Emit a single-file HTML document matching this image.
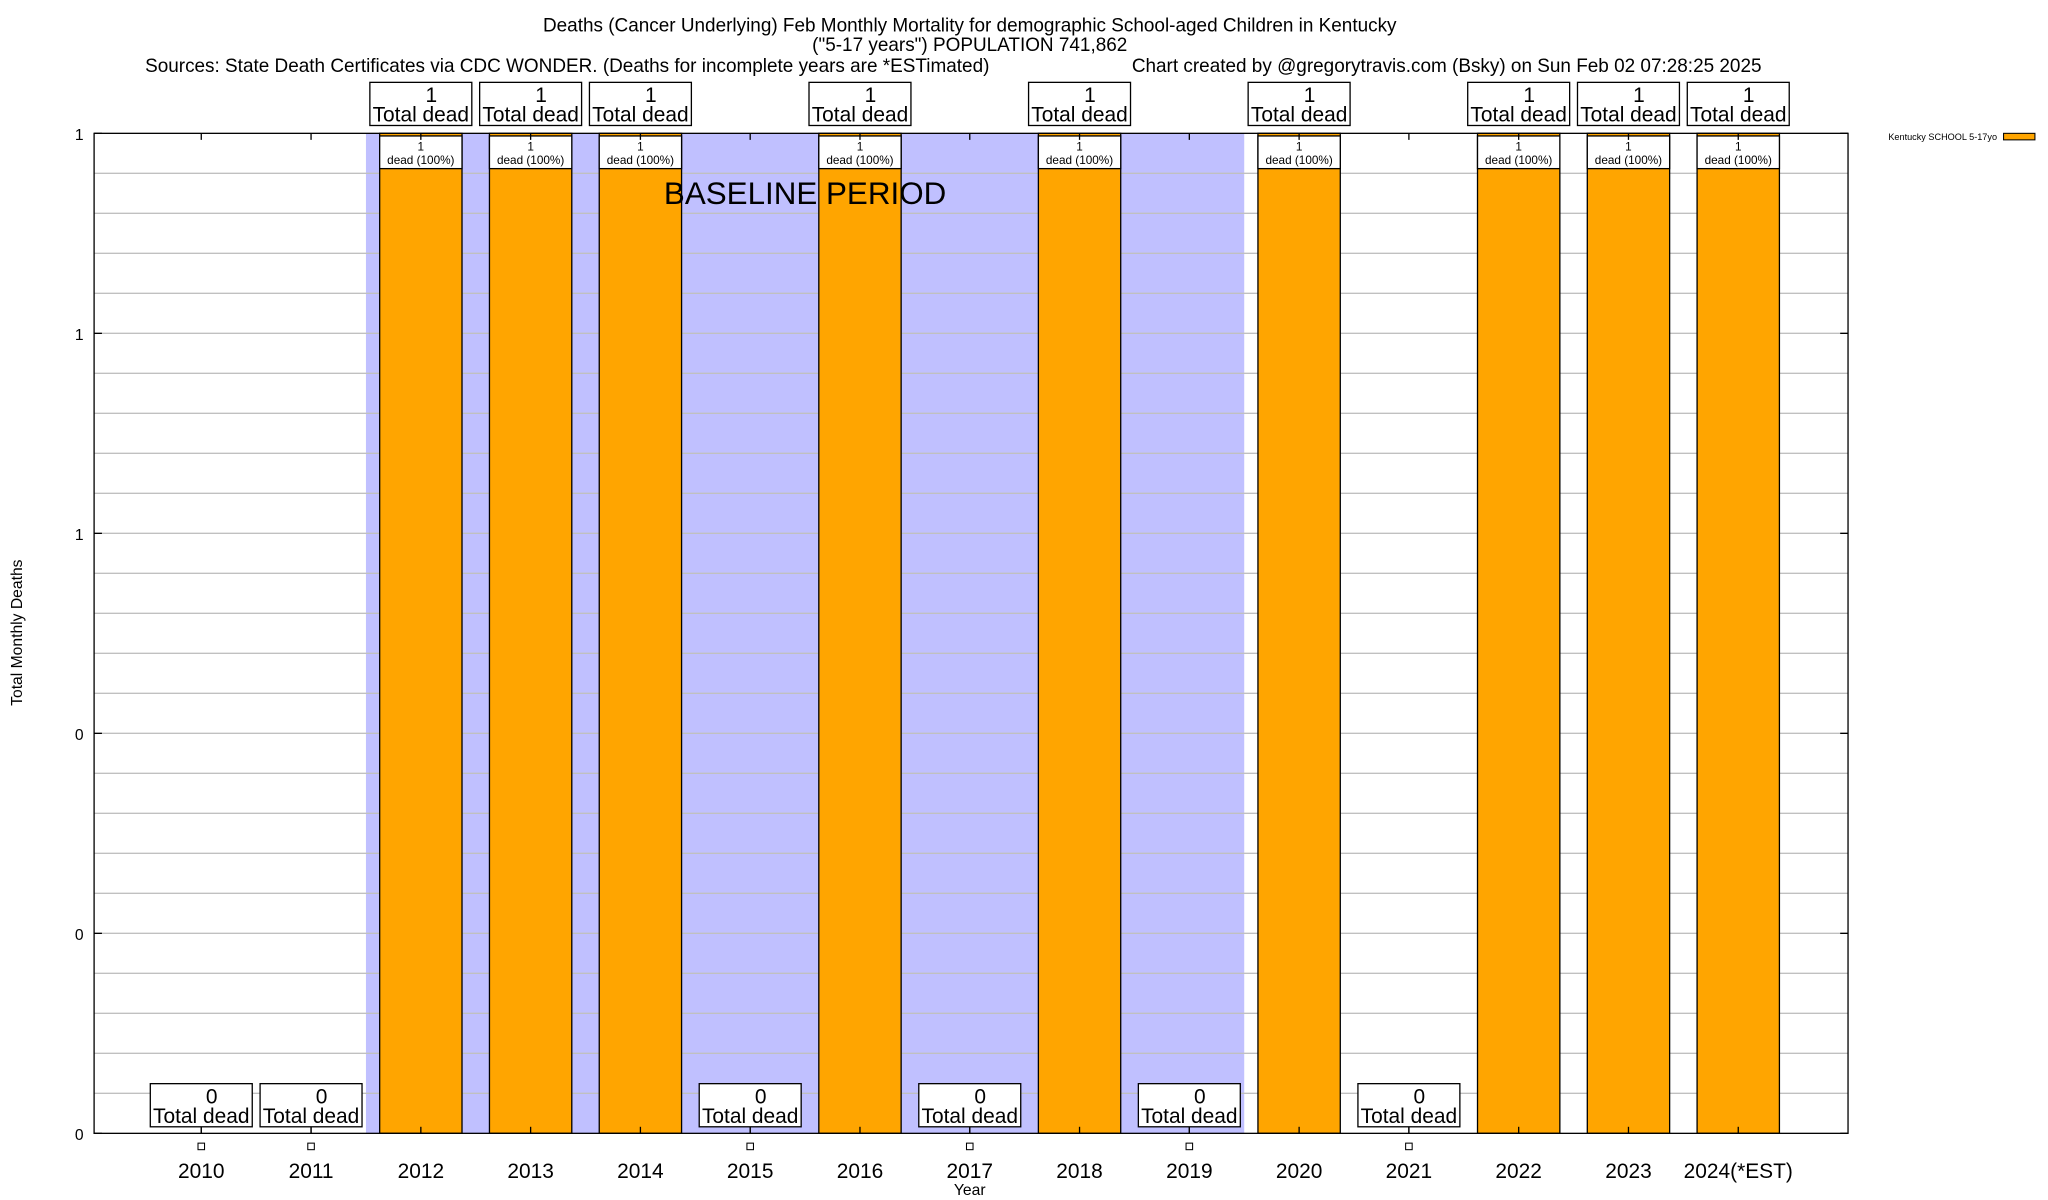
<!DOCTYPE html>
<html><head><meta charset="utf-8"><style>
html,body{margin:0;padding:0;background:#fff;}
svg{display:block;font-family:"Liberation Sans",Arial,sans-serif;}
</style></head><body>
<svg id="chart" width="2048" height="1200" viewBox="0 0 1567 918" preserveAspectRatio="none" xmlns="http://www.w3.org/2000/svg">
<rect width="1567" height="918" fill="#fff"/>
<g font-size="14.5" text-anchor="middle" fill="#000">
<text x="742" y="24">Deaths (Cancer Underlying) Feb Monthly Mortality for demographic School-aged Children in Kentucky</text>
<text x="742" y="39">("5-17 years") POPULATION 741,862</text>
<text x="111" y="55" text-anchor="start">Sources: State Death Certificates via CDC WONDER. (Deaths for incomplete years are *ESTimated)</text>
<text x="866" y="55" text-anchor="start">Chart created by @gregorytravis.com (Bsky) on Sun Feb 02 07:28:25 2025</text>
</g>
<g id="plot"></g>
</svg>
<script>
const categories = ["2010","2011","2012","2013","2014","2015","2016","2017","2018","2019","2020","2021","2022","2023","2024(*EST)"];
const deaths = [0,0,1,1,1,0,1,0,1,0,1,0,1,1,1];
const yTickLabels = ["0","0","0","1","1","1"];
const yTickValues = [0,0.2,0.4,0.6,0.8,1];
const baselineStart = "2012", baselineEnd = "2019";

const L=72,R=1414,T=102,B=867;
const NS="http://www.w3.org/2000/svg";
const g=document.getElementById('plot');
const step=84, x0=154;
function xc(i){return x0+i*step;}
function y(v){return B-(v-0)/(1-0)*(B-T);}
function el(tag,attrs,parent){const e=document.createElementNS(NS,tag);for(const k in attrs)e.setAttribute(k,attrs[k]);(parent||g).appendChild(e);return e;}
function txt(x,yy,s,size,anchor,parent){const t=el('text',{x:x,y:yy,'font-size':size,'text-anchor':anchor||'middle',fill:'#000'},parent);t.textContent=s;return t;}

const bi0=categories.indexOf(baselineStart), bi1=categories.indexOf(baselineEnd);
const band=el('rect',{x:xc(bi0)-42,y:T,width:(xc(bi1)+42)-(xc(bi0)-42),height:B-T,fill:'#c0c0ff'});



for(let k=1;k<25;k++){
  const v=k/25; const yy=y(v);
  const gl=el('line',{x1:L,x2:R,y1:yy,y2:yy,stroke:'#c0c0c0','stroke-width':1});
  
  
}

deaths.forEach((d,i)=>{
  const cx=xc(i);
  if(d>0){
    const bar=el('rect',{x:cx-31.5,y:y(d),width:63,height:B-y(d),fill:'#ffa500',stroke:'#000','stroke-width':1});
    
    
    const ib=el('rect',{x:cx-31.5,y:y(d)+2,width:63,height:25,fill:'#fff',stroke:'#000','stroke-width':1});
    
    
    txt(cx,y(d)+13,String(d),9);
    txt(cx,y(d)+23.5,'dead (100%)',9);
    const tb=el('rect',{x:cx-39,y:y(d)-39,width:78,height:33,fill:'#fff',stroke:'#000','stroke-width':1});
    
    
    txt(cx+8,y(d)-24,String(d),16);
    txt(cx,y(d)-9,'Total dead',16);
  } else {
    const tb=el('rect',{x:cx-39,y:B-38,width:78,height:33,fill:'#fff',stroke:'#000','stroke-width':1});
    
    
    el('line',{x1:cx,x2:cx,y1:B-5,y2:B,stroke:'#000'});
    txt(cx+8,B-23,String(d),16);
    txt(cx,B-8,'Total dead',16);
    const m=el('rect',{x:cx-2.5,y:B+7.5,width:5,height:5,fill:'#fff',stroke:'#000','stroke-width':0.8});
    
    
  }
  const xl=txt(cx,B+34,categories[i],16);
  
  
  el('line',{x1:cx,x2:cx,y1:T,y2:T+5,stroke:'#000'});
  el('line',{x1:cx,x2:cx,y1:B,y2:B-5,stroke:'#000'});
});

const bt=txt(616,156,'BASELINE PERIOD',24);



const fr=el('rect',{x:L,y:T,width:R-L,height:B-T,fill:'none',stroke:'#000','stroke-width':1});



yTickValues.forEach((v,i)=>{
  const yy=y(v);
  const t=txt(64,yy+5,yTickLabels[i],12,'end');
  
  
  el('line',{x1:L,x2:L+6,y1:yy,y2:yy,stroke:'#000'});
  el('line',{x1:R,x2:R-6,y1:yy,y2:yy,stroke:'#000'});
});

const yt=txt(0,0,'Total Monthly Deaths',12);
yt.setAttribute('transform','translate(17,484) rotate(-90)');


const xt=txt(742,914,'Year',12);



const lg=txt(1528,107,'Kentucky SCHOOL 5-17yo',7,'end');


const ls=el('rect',{x:1533,y:102,width:24,height:5,fill:'#ffa500',stroke:'#000','stroke-width':0.8});


</script>
</body></html>
